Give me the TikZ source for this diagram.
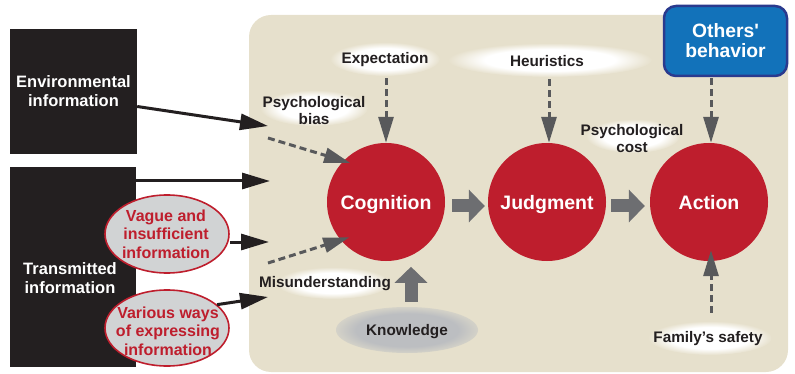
\documentclass[tikz,border=0pt]{standalone}
\usepackage{fontspec}
\newfontfamily\labelfont{Liberation Sans}
\usetikzlibrary{arrows.meta,shapes.geometric}

\definecolor{panel}{RGB}{230,224,204}
\definecolor{ink}{RGB}{35,31,32}
\definecolor{stage}{RGB}{190,30,45}
\definecolor{tipgray}{RGB}{88,89,91}
\definecolor{flowgray}{RGB}{109,110,113}
\definecolor{softgray}{RGB}{209,211,212}
\definecolor{knowgray}{RGB}{188,190,193}
\definecolor{knowedge}{RGB}{212,210,200}
\definecolor{othersfill}{RGB}{18,114,186}
\definecolor{othersedge}{RGB}{42,58,142}

% soft white halo behind the annotation labels
\pgfdeclareradialshading{glowshade}{\pgfpoint{0bp}{0bp}}{color(0bp)=(white); color(16bp)=(white); color(25bp)=(panel); color(50bp)=(panel)}
% grey cloud behind "Knowledge"
\pgfdeclareradialshading{knowshade}{\pgfpoint{0bp}{0bp}}{color(0bp)=(knowgray); color(18bp)=(knowgray); color(25bp)=(knowedge); color(50bp)=(panel)}

\tikzset{
  stagecircle/.style={circle, fill=stage, minimum size=118pt, inner sep=0pt,
    text depth=0pt, text=white, font=\labelfont\bfseries\fontsize{19.5}{21}\selectfont},
  infobox/.style={fill=ink, inner sep=0pt, text=white, align=center,
    font=\labelfont\bfseries\fontsize{16.5}{19}\selectfont},
  note/.style={text=ink, align=center, inner sep=0pt,
    font=\labelfont\bfseries\fontsize{15.3}{17}\selectfont},
  glow/.style={ellipse, shading=glowshade, inner sep=0pt},
  causebubble/.style={ellipse, fill=softgray, draw=stage, line width=1.6pt, inner sep=0pt},
  causetext/.style={text=stage, align=center, inner sep=0pt,
    font=\labelfont\bfseries\fontsize{16}{18.5}\selectfont},
  feed/.style={-{Triangle[length=28pt,width=16pt]}, line width=3pt, draw=ink},
  influence/.style={-{Triangle[length=26pt,width=15pt]}, line width=3pt, draw=tipgray,
    dash pattern=on 7pt off 4pt},
  flow/.style={-{Triangle[length=16pt,width=32pt]}, line width=13pt, draw=flowgray},
}

\begin{document}
\begin{tikzpicture}[x=1pt,y=-1pt]
\useasboundingbox (0,0) rectangle (795,374);

% beige panel holding the decision process
\node[fill=panel, rounded corners=22pt, minimum width=539pt, minimum height=357pt,
  inner sep=0pt] (panel) at (518.5,193.5) {};

% information sources
\node[infobox, minimum width=127pt, minimum height=125pt] (env) at (73.5,91.5)
  {Environmental\\information};
\node[infobox, minimum width=126pt, minimum height=200pt] (trans) at (73,267) {};
\node[infobox] (translabel) at (70,278) {Transmitted\\information};

\node[causebubble, minimum width=124pt, minimum height=78pt] (vague) at (167,234) {};
\node[causetext] (vaguelabel) at (166,234) {Vague and\\insufficient\\information};
\node[causebubble, minimum width=124pt, minimum height=76pt] (various) at (167,328) {};
\node[causetext] (variouslabel) at (168,331) {Various ways\\of expressing\\information};

% halos and labels inside the panel
\node[glow, minimum width=110pt, minimum height=34pt] (expg) at (385,59) {};
\node[note] (exp) at (385,60) {Expectation};
\node[glow, minimum width=204pt, minimum height=34pt] (heurg) at (550,60) {};
\node[note] (heur) at (547,61) {Heuristics};
\node[glow, minimum width=108pt, minimum height=36pt] (biasg) at (314,108) {};
\node[note] (bias) at (314,111) {Psychological\\bias};
\node[glow, minimum width=94pt, minimum height=34pt] (costg) at (633,136) {};
\node[note] (cost) at (632,139) {Psychological\\cost};
\node[glow, minimum width=114pt, minimum height=32pt] (misg) at (333,283) {};
\node[note] (mis) at (325,284) {Misunderstanding};
\node[glow, minimum width=124pt, minimum height=34pt] (famg) at (710,338) {};
\node[note] (fam) at (708,339) {Family’s safety};
\node[ellipse, shading=knowshade, inner sep=0pt, minimum width=142pt,
  minimum height=46pt] (know) at (407,330) {};
\node[note] (knowlabel) at (407,332) {Knowledge};

% others' behaviour
\node[fill=othersfill, draw=othersedge, line width=2.5pt, rounded corners=12pt,
  minimum width=123pt, minimum height=70pt, inner sep=0pt, text=white, align=center,
  font=\labelfont\bfseries\fontsize{19.3}{20}\selectfont] (others) at (725.5,41)
  {Others'\\behavior};

% the three stages
\node[stagecircle] (cog) at (386,202) {Cognition};
\node[stagecircle] (jud) at (547,202) {Judgment};
\node[stagecircle] (act) at (709,202) {Action};

% incoming information
\coordinate (envtip) at (268,126);
\coordinate (transtip) at (270,181);
\coordinate (vaguetip) at (269,242);
\coordinate (varioustip) at (268,297);
\draw[feed] ([yshift=-15pt]env.east) -- (envtip);
\draw[feed] (trans.east |- transtip) -- (transtip);
\draw[feed] (vague.east |- vaguetip) -- (vaguetip);
\draw[feed] (various.25) -- (varioustip);

% dashed influences
\coordinate (biasfrom) at (268,138);
\coordinate (misfrom) at (268,263);
\draw[influence, shorten >=-7pt] (biasfrom) -- (cog.136);
\draw[influence, shorten >=-9pt] (misfrom) -- (cog.220);
\draw[influence, shorten <=2pt] (expg.south -| cog.north) -- (cog.north);
\draw[influence, shorten <=2pt] (heurg.south -| 549,0) -- (jud.north -| 549,0);
\draw[influence, shorten <=1pt] (others.south -| 711,0) -- (act.north -| 711,0);
\draw[influence, shorten <=8pt, shorten >=-11pt] (famg.north -| 711,0) -- (act.south -| 711,0);

% stage-to-stage flow
\draw[flow, shorten <=7pt, shorten >=3pt] ([yshift=-4pt]cog.east) -- ([yshift=-4pt]jud.west);
\draw[flow, shorten <=5pt, shorten >=5pt] ([yshift=-4pt]jud.east) -- ([yshift=-4pt]act.west);
\draw[flow, shorten <=5pt] ([xshift=4pt]know.north) -- ++(0,-40);
\end{tikzpicture}
\end{document}
